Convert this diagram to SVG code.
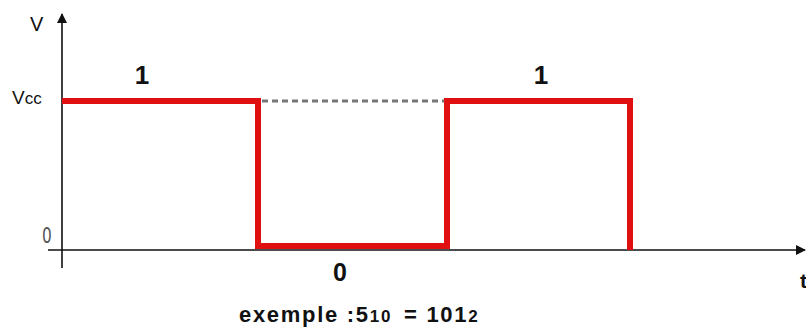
<svg xmlns="http://www.w3.org/2000/svg" width="806" height="329" viewBox="0 0 806 329">
<style>
.axis{stroke:#111;stroke-width:1.6;fill:none}
.sig{stroke:#e01010;stroke-width:6;fill:none;stroke-linejoin:miter}
.lbl{font-family:"Liberation Sans",Arial,sans-serif;fill:#111}
.b{font-weight:bold}
</style>
<defs>
<marker id="ah" markerWidth="10" markerHeight="10" refX="9" refY="5" orient="auto" markerUnits="userSpaceOnUse">
<path d="M0,0 L10,5 L0,10 Z" fill="#111"/>
</marker>
</defs>
<rect width="806" height="329" fill="#fff"/>
<g id="connectors">
<line class="axis" x1="62" y1="268" x2="62" y2="14" marker-end="url(#ah)"/>
<line class="axis" x1="48" y1="250" x2="805" y2="250" marker-end="url(#ah)"/>
<line x1="262" y1="101" x2="444" y2="101" stroke="#777" stroke-width="3" stroke-dasharray="6,4"/>
<path class="sig" d="M62,101 H258 V246 H447 V101 H630 V250"/>
</g>
<g id="labels">
<text class="lbl" x="30" y="31" font-size="20">V</text>
<text class="lbl" x="12" y="104" font-size="19">V<tspan font-size="17">cc</tspan></text>
<text x="42" y="243" font-size="22" font-family="'DejaVu Sans',sans-serif" fill="#555" transform="translate(42 0) scale(0.7 1) translate(-42 0)">0</text>
<text class="lbl b" x="142" y="84" font-size="26" text-anchor="middle">1</text>
<text class="lbl b" x="541" y="84" font-size="26" text-anchor="middle">1</text>
<text class="lbl b" x="340" y="281" font-size="25" text-anchor="middle">0</text>
<text class="lbl b" x="800" y="288" font-size="21">t</text>
<text class="lbl" x="239" y="322" font-size="22" letter-spacing="1.7" font-weight="bold">exemple :5<tspan font-size="17">10</tspan><tspan dx="12">= 101</tspan><tspan font-size="17">2</tspan></text>
</g>
</svg>
